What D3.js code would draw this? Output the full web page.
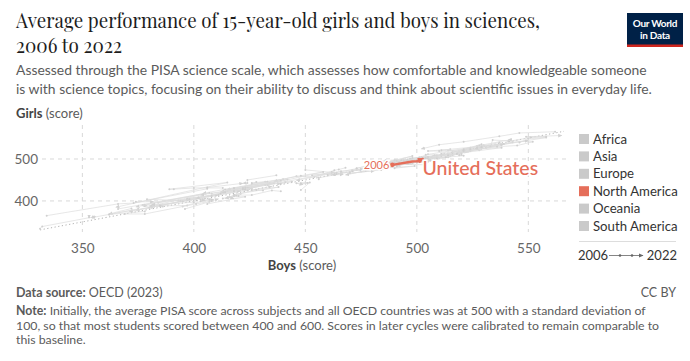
<!DOCTYPE html>
<html><head><meta charset="utf-8">
<script src="https://cdn.jsdelivr.net/npm/d3@7"></script>
<style>
body{margin:0;background:#fff;}
svg{display:block;font-family:Lato,"Noto Sans",sans-serif;}
</style></head>
<body><svg id="chart" width="690" height="361"></svg>
<script>
const years = [2006, 2009, 2012, 2015, 2018, 2022];
const legendRegions = ["Africa","Asia","Europe","North America","Oceania","South America"];
const xTicks = [350, 400, 450, 500, 550];
const yTicks = [400, 500];
const highlight = "United States";
const n = null;
const countries = ["Albania","Algeria","Argentina","Australia","Austria","Azerbaijan","Belgium","Brazil","Bulgaria","Canada","Chile","Colombia","Costa Rica","Croatia","Cyprus","Czechia","Denmark","Dominican Republic","Estonia","Finland","France","Georgia","Germany","Greece","Hong Kong","Hungary","Iceland","Indonesia","Ireland","Israel","Italy","Japan","Jordan","Kazakhstan","Kosovo","Latvia","Lebanon","Lithuania","Luxembourg","Macao","Malaysia","Malta","Mexico","Moldova","Montenegro","Morocco","Netherlands","New Zealand","North Macedonia","Norway","Panama","Peru","Philippines","Poland","Portugal","Qatar","Romania","Russia","Saudi Arabia","Serbia","Singapore","Slovakia","Slovenia","South Korea","Spain","Sweden","Switzerland","Taiwan","Thailand","Tunisia","Turkey","United Arab Emirates","United Kingdom","Uruguay","Vietnam","United States"];
const countryRegion = ["Europe","Africa","South America","Oceania","Europe","Asia","Europe","South America","Europe","North America","South America","South America","North America","Europe","Europe","Europe","Europe","North America","Europe","Europe","Europe","Asia","Europe","Europe","Asia","Europe","Europe","Asia","Europe","Asia","Europe","Asia","Asia","Asia","Europe","Europe","Asia","Europe","Europe","Asia","Asia","Europe","North America","Europe","Europe","Africa","Europe","Oceania","Europe","Europe","North America","South America","Asia","Europe","Europe","Asia","Europe","Europe","Asia","Europe","Asia","Europe","Europe","Asia","Europe","Europe","Europe","Asia","Asia","Africa","Asia","Asia","Europe","South America","Asia","North America"];
const boys = [
[n,379,393,425,414,374],[n,n,n,369,n,n],[384,397,405,n,407,409],[527,528,524,511,502,510],[515,498,507,504,493,494],
[381,371,n,n,n,n],[511,510,508,508,502,494],[395,407,408,403,403,405],[426,432,440,442,418,415],[536,531,527,527,519,518],
[448,452,448,451,446,449],[396,407,406,423,416,418],[n,439,435,426,418,415],[492,482,492,476,471,483],[n,n,428,426,433,404],
[515,498,509,496,495,501],[500,505,504,506,494,496],[n,n,n,331,332,356],[530,527,543,536,529,529],[562,546,537,521,510,502],
[497,500,499,498,496,491],[n,366,n,405,377,379],[519,523,524,514,504,496],[468,465,463,454,446,436],[546,550,558,524,514,523],
[507,503,495,478,483,489],[488,496,481,475,473,446],[397,378,380,401,394,381],[508,509,524,508,495,506],[456,456,470,466,463,467],
[477,488,495,484,470,481],[533,534,552,545,531,550],[413,400,391,389,415,365],[n,397,424,n,395,421],[n,n,n,375,362,354],
[486,490,498,487,482,492],[n,n,n,386,380,n],[483,486,494,473,479,483],[491,490,499,487,480,468],[512,511,521,527,542,541],
[n,418,415,n,434,412],[n,450,n,464,453,463],[413,419,418,420,421,414],[n,408,n,426,424,412],[411,397,408,410,412,401],
[n,n,n,n,372,362],[528,524,524,511,502,486],[528,529,516,516,509,506],[n,n,n,381,407,374],[484,498,494,501,487,477],
[n,378,n,n,362,386],[n,369,378,401,408,411],[n,n,n,n,353,353],[500,505,524,504,511,500],[477,491,488,506,492,487],
[334,366,373,406,406,422],[414,423,436,432,423,426],[481,477,488,490,478,n],[n,n,n,n,374,382],[433,441,444,n,439,439],
[n,541,551,558,549,565],[491,490,471,460,464,462],[515,505,510,516,504,500],[521,537,539,511,521,530],[491,490,500,496,484,488],
[504,493,483,496,497,495],[514,520,518,509,496,506],[536,521,524,538,518,539],[418,422,439,414,422,403],[385,398,400,381,n,n],
[418,448,458,423,466,476],[n,n,437,424,424,422],[520,519,521,513,505,503],[431,428,418,438,426,435],[n,n,529,526,n,n],
[489,498,500,502,501,503]
];
const girls = [
[n,404,401,430,420,378],[n,n,n,383,n,n],[396,404,406,n,402,404],[527,527,519,509,504,504],[507,490,504,486,488,488],
[384,375,n,n,n,n],[510,503,503,496,497,488],[387,404,402,399,404,401],[443,446,452,451,431,427],[532,526,524,528,517,512],
[426,444,442,443,442,439],[381,398,393,410,410,405],[n,423,425,414,414,407],[494,490,491,473,473,483],[n,n,445,441,446,418],
[510,502,508,490,498,495],[491,494,493,498,492,491],[n,n,n,334,339,363],[533,528,540,533,531,523],[565,562,554,541,534,524],
[494,497,498,492,489,483],[n,381,n,418,390,389],[512,518,524,504,501,488],[479,475,473,457,459,447],[539,548,551,523,520,517],
[501,503,493,474,480,483],[494,496,477,470,477,449],[389,388,384,405,399,386],[509,508,520,497,497,502],[452,455,469,467,462,463],
[474,490,492,474,466,472],[530,545,541,532,528,544],[431,431,428,428,444,385],[n,403,426,n,399,425],[n,n,n,381,368,360],
[493,497,507,492,492,496],[n,n,n,387,388,n],[493,497,498,478,485,485],[482,478,483,479,475,462],[510,512,521,531,546,546],
[n,426,424,n,442,420],[n,474,n,467,461,469],[406,413,412,412,417,406],[n,418,n,430,432,422],[414,406,412,413,418,406],
[n,n,n,n,382,369],[521,520,520,507,504,490],[532,535,516,511,508,502],[n,n,n,388,419,386],[489,502,496,496,493,479],
[n,375,n,n,368,390],[n,369,369,393,400,405],[n,n,n,n,361,359],[496,511,527,498,511,498],[472,495,490,496,492,481],
[365,393,395,429,432,442],[422,433,442,438,428,430],[478,480,486,485,478,n],[n,n,n,n,398,398],[438,445,446,n,441,441],
[n,542,551,553,553,556],[485,491,471,462,464,462],[523,519,519,510,510,500],[523,539,536,521,517,526],[486,486,493,490,482,482],
[503,497,488,489,501,493],[509,514,512,502,495,500],[529,520,523,527,513,535],[423,428,448,427,431,414],[388,404,397,391,n,n],
[430,460,469,428,471,476],[n,n,461,450,443,442],[510,509,508,504,505,497],[425,426,415,433,426,435],[n,n,528,524,n,n],
[486,494,495,494,497,501]
];

const RED = "#e56e5a", GREY = "#dcdcdc", TXT = "#5b5b5b";
const svg = d3.select("#chart");
svg.append("rect").attr("width",690).attr("height",361).attr("fill","#fff");

// Title
const serif = "'Playfair Display','Liberation Serif','DejaVu Serif',serif";
svg.append("text").attr("x",16).attr("y",28).attr("font-family",serif).attr("font-size",20).attr("fill","#1d1d1d")
  .attr("textLength",524).attr("lengthAdjust","spacingAndGlyphs")
  .text("Average performance of 15-year-old girls and boys in sciences,");
svg.append("text").attr("x",16).attr("y",53).attr("font-family",serif).attr("font-size",20).attr("fill","#1d1d1d")
  .attr("textLength",106).attr("lengthAdjust","spacingAndGlyphs")
  .text("2006 to 2022");
const sub = ["Assessed through the PISA science scale, which assesses how comfortable and knowledgeable someone",
             "is with science topics, focusing on their ability to discuss and think about scientific issues in everyday life."];
sub.forEach((t,i)=>svg.append("text").attr("x",16).attr("y",75+i*18.5).attr("font-size",13.9).attr("fill",TXT).text(t));

// Logo
const logo = svg.append("g");
logo.append("rect").attr("x",627).attr("y",13).attr("width",56).attr("height",34).attr("fill","#002147");
logo.append("rect").attr("x",627).attr("y",44.5).attr("width",56).attr("height",2.5).attr("fill","#ce261e");
logo.append("text").attr("x",655).attr("y",27).attr("text-anchor","middle").attr("font-size",10).attr("font-weight",700).attr("fill","#fff").attr("letter-spacing",-0.3).text("Our World");
logo.append("text").attr("x",655).attr("y",39).attr("text-anchor","middle").attr("font-size",10).attr("font-weight",700).attr("fill","#fff").attr("letter-spacing",-0.3).text("in Data");

// Scales
const x = d3.scaleLinear().domain([331,566]).range([40,564]);
const y = d3.scaleLinear().domain([326,581]).range([232,125]);

// Axis label y
const gl = svg.append("text").attr("x",16).attr("y",118).attr("font-size",13).attr("fill","#444");
gl.append("tspan").attr("font-weight",700).text("Girls");
gl.append("tspan").attr("fill",TXT).text(" (score)");

// Gridlines
const grid = svg.append("g");
xTicks.forEach(v=>grid.append("line").attr("x1",x(v)).attr("x2",x(v)).attr("y1",125).attr("y2",232)
  .attr("stroke","#d8d8d8").attr("stroke-dasharray","4,4"));
yTicks.forEach(v=>grid.append("line").attr("x1",42).attr("x2",566).attr("y1",y(v)).attr("y2",y(v))
  .attr("stroke","#d8d8d8").attr("stroke-dasharray","4,4"));

// Axes via d3
const xAxis = svg.append("g").attr("transform","translate(0,234)")
  .call(d3.axisBottom(x).tickValues(xTicks).tickSize(0).tickPadding(9));
xAxis.select(".domain").remove();
xAxis.selectAll("text").attr("font-size",13.5).attr("fill","#666").attr("font-family","Lato");
const yAxis = svg.append("g").attr("transform","translate(38,0)")
  .call(d3.axisLeft(y).tickValues(yTicks).tickSize(0).tickPadding(0));
yAxis.select(".domain").remove();
yAxis.selectAll("text").attr("font-size",13.5).attr("fill","#666").attr("font-family","Lato");

svg.append("text").attr("x",302).attr("y",270).attr("text-anchor","middle").attr("font-size",13).attr("fill","#444")
  .call(t=>{t.append("tspan").attr("font-weight",700).text("Boys");t.append("tspan").attr("fill",TXT).text(" (score)");});

// Diagonal y = x
const [d0,d1] = x.domain();
svg.append("line").attr("x1",x(d0)).attr("y1",y(d0)).attr("x2",x(d1)).attr("y2",y(d1))
  .attr("stroke","#a8a8a8").attr("stroke-width",0.9).attr("stroke-dasharray","1.2,2.5");

// Arrow markers
const defs = svg.append("defs");
function marker(id,color,size){
  defs.append("marker").attr("id",id).attr("viewBox","0 0 10 10").attr("refX",8).attr("refY",5)
    .attr("markerWidth",size).attr("markerHeight",size).attr("orient","auto").attr("markerUnits","userSpaceOnUse")
    .append("path").attr("d","M0,1 L9,5 L0,9 Z").attr("fill",color);
}
marker("arrG","#d2d2d2",4.5);
marker("arrR",RED,7);
marker("arrL","#666",5);

const line = d3.line().x(d=>x(d.b)).y(d=>y(d.g));
const series = countries.map((c,i)=>({name:c, region:countryRegion[i],
  pts: years.map((yr,j)=>({yr, b:boys[i][j], g:girls[i][j]})).filter(p=>p.b!=null && p.g!=null)}));

const plot = svg.append("g");
series.filter(s=>s.name!==highlight).forEach(s=>{
  if(s.pts.length>1) plot.append("path").attr("d",line(s.pts)).attr("fill","none").attr("stroke",GREY)
    .attr("stroke-width",0.7).attr("marker-end","url(#arrG)");
  plot.selectAll(null).data(s.pts.slice(0,-1)).join("circle").attr("cx",d=>x(d.b)).attr("cy",d=>y(d.g)).attr("r",1).attr("fill","#d0d0d0");
});
const us = series.find(s=>s.name===highlight);
plot.append("path").attr("d",line(us.pts)).attr("fill","none").attr("stroke",RED).attr("stroke-width",2.4).attr("marker-end","url(#arrR)");
plot.append("circle").attr("cx",x(us.pts[0].b)).attr("cy",y(us.pts[0].g)).attr("r",2.3).attr("fill",RED);
const p0 = us.pts[0], pl = us.pts[us.pts.length-1];
plot.append("text").attr("x",x(p0.b)-3).attr("y",y(p0.g)+4).attr("text-anchor","end").attr("font-size",11)
  .attr("fill",RED).attr("stroke","#fff").attr("stroke-width",3).attr("paint-order","stroke").text(String(p0.yr));
plot.append("text").attr("x",x(pl.b)-1).attr("y",y(pl.g)+16).attr("font-size",19.5).attr("font-weight",500)
  .attr("fill",RED).attr("stroke","#fff").attr("stroke-width",3).attr("paint-order","stroke").text(highlight);

// Legend
const lg = svg.append("g");
legendRegions.forEach((r,i)=>{
  const cy = 139 + i*17.4;
  lg.append("rect").attr("x",579).attr("y",cy-5).attr("width",10).attr("height",10)
    .attr("fill", r==="North America"?RED:"#cacaca");
  lg.append("text").attr("x",593).attr("y",cy+4.5).attr("font-size",13.2).attr("fill","#333").text(r);
});
lg.append("line").attr("x1",579).attr("x2",676).attr("y1",241.5).attr("y2",241.5).attr("stroke","#ddd");
lg.append("text").attr("x",578).attr("y",260).attr("font-size",13).attr("fill","#333").text(String(years[0]));
lg.append("text").attr("x",677).attr("y",260).attr("text-anchor","end").attr("font-size",13).attr("fill","#333").text(String(years[years.length-1]));
lg.append("line").attr("x1",609).attr("x2",643).attr("y1",255.5).attr("y2",255.5).attr("stroke","#666").attr("stroke-width",0.8).attr("marker-end","url(#arrL)");
[620,632].forEach(cx=>lg.append("circle").attr("cx",cx).attr("cy",255.5).attr("r",1.3).attr("fill","#666"));

// Footer
const f1 = svg.append("text").attr("x",16).attr("y",297).attr("font-size",12.5).attr("fill",TXT);
f1.append("tspan").attr("font-weight",700).text("Data source:");
f1.append("tspan").text(" OECD (2023)");
svg.append("text").attr("x",676).attr("y",297).attr("text-anchor","end").attr("font-size",12.5).attr("fill",TXT).text("CC BY");
const note = ["Initially, the average PISA score across subjects and all OECD countries was at 500 with a standard deviation of",
  "100, so that most students scored between 400 and 600. Scores in later cycles were calibrated to remain comparable to",
  "this baseline."];
note.forEach((t,i)=>{
  const tx = svg.append("text").attr("x",16).attr("y",315+i*14.5).attr("font-size",12.3).attr("fill",TXT);
  if(i===0){tx.append("tspan").attr("font-weight",700).text("Note:");tx.append("tspan").text(" "+t);} else tx.text(t);
});
</script></body></html>
